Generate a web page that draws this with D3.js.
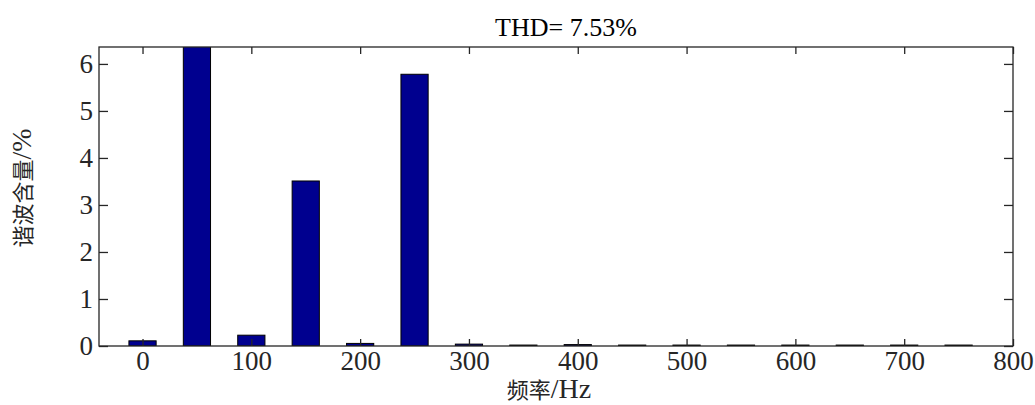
<!DOCTYPE html>
<html>
<head>
<meta charset="utf-8">
<script src="https://cdn.jsdelivr.net/npm/d3@7"></script>
<style>
  html, body { margin: 0; padding: 0; background: #fff; }
  svg { display: block; }
</style>
</head>
<body>
<svg id="chart" width="1035" height="405"></svg>
<script>
// Harmonic spectrum: frequency (Hz) and harmonic content (% of fundamental)
const frequencies = [0, 50, 100, 150, 200, 250, 300, 350, 400, 450, 500, 550, 600, 650, 700, 750];
const contents    = [0.11, 100, 0.23, 3.51, 0.055, 5.78, 0.04, 0.02, 0.03, 0.02, 0.02, 0.02, 0.02, 0.02, 0.02, 0.02];
const xTicks = [0, 100, 200, 300, 400, 500, 600, 700, 800];
const yTicks = [0, 1, 2, 3, 4, 5, 6];
const titleText = "THD= 7.53%";
const xLabelParts = ["频率", "/Hz"];
const yLabelParts = ["谐波含量", "/%"];

const SERIF = "'Liberation Serif', 'Times New Roman', serif";
const CJK = "'Noto Sans CJK SC', sans-serif";

const svg = d3.select("#chart");
const W = 1035, H = 405;
const margin = { left: 99, right: W - 1013, top: 47, bottom: H - 346 };
const iw = W - margin.left - margin.right;
const ih = H - margin.top - margin.bottom;

const x = d3.scaleLinear().domain([-40, 800]).range([margin.left, W - margin.right]);
const y = d3.scaleLinear().domain([0, 6.36]).range([H - margin.bottom, margin.top]);
const barWidth = 25; // in Hz units

svg.append("defs").append("clipPath").attr("id", "plotClip")
  .append("rect")
  .attr("x", margin.left).attr("y", margin.top)
  .attr("width", iw).attr("height", ih);

// bars
svg.append("g").attr("clip-path", "url(#plotClip)")
  .selectAll("rect")
  .data(frequencies.map((f, i) => ({ f, v: contents[i] })))
  .join("rect")
  .attr("x", d => x(d.f - barWidth / 2))
  .attr("width", d => x(d.f + barWidth / 2) - x(d.f - barWidth / 2))
  .attr("y", d => y(d.v))
  .attr("height", d => y(0) - y(d.v))
  .attr("fill", "#00008f")
  .attr("stroke", "#000")
  .attr("stroke-width", 1);

const axisColor = "#262626";
const xTickLen = 7, yTickLen = 9;
const tickFont = 27;

// bottom axis (ticks pointing inward)
const gx = svg.append("g").attr("transform", `translate(0,${y(0)})`)
  .call(d3.axisBottom(x).tickValues(xTicks).tickFormat(d3.format("d")).tickSizeInner(-xTickLen).tickSizeOuter(0));
// top axis ticks
const gxt = svg.append("g").attr("transform", `translate(0,${margin.top})`)
  .call(d3.axisTop(x).tickValues(xTicks).tickSizeInner(-xTickLen).tickSizeOuter(0).tickFormat(""));
// left axis
const gy = svg.append("g").attr("transform", `translate(${margin.left},0)`)
  .call(d3.axisLeft(y).tickValues(yTicks).tickFormat(d3.format("d")).tickSizeInner(-yTickLen).tickSizeOuter(0));
// right axis ticks
const gyr = svg.append("g").attr("transform", `translate(${W - margin.right},0)`)
  .call(d3.axisRight(y).tickValues(yTicks).tickSizeInner(-yTickLen).tickSizeOuter(0).tickFormat(""));

[gx, gxt, gy, gyr].forEach(g => {
  g.select(".domain").remove();
  g.selectAll("line").attr("stroke", axisColor).attr("stroke-width", 1.3);
  g.selectAll("text")
    .attr("font-family", SERIF)
    .attr("font-size", tickFont)
    .attr("fill", axisColor);
});
gx.selectAll("text").attr("y", 24).attr("dy", 0);
gy.selectAll("text").attr("x", -6).attr("dy", "0.33em");

// plot frame
svg.append("rect")
  .attr("x", margin.left).attr("y", margin.top)
  .attr("width", iw).attr("height", ih)
  .attr("fill", "none").attr("stroke", axisColor).attr("stroke-width", 1.3);

// title
svg.append("text")
  .attr("x", 566).attr("y", 36)
  .attr("text-anchor", "middle")
  .attr("font-family", SERIF)
  .attr("font-size", 26)
  .attr("fill", "#000")
  .text(titleText);

// axis labels: CJK part + Latin part in serif
function addLabel(parts, attrs) {
  const t = svg.append("text")
    .attr("text-anchor", "middle")
    .attr("fill", axisColor)
    .attr("font-size", 22);
  Object.entries(attrs).forEach(([k, v]) => t.attr(k, v));
  t.append("tspan").attr("font-family", CJK).text(parts[0]);
  t.append("tspan").attr("font-family", SERIF).attr("font-size", 28).text(parts[1]);
  return t;
}

addLabel(xLabelParts, { x: 549, y: 398 });
addLabel(yLabelParts, { transform: `translate(31,188) rotate(-90)` });
</script>
</body>
</html>
